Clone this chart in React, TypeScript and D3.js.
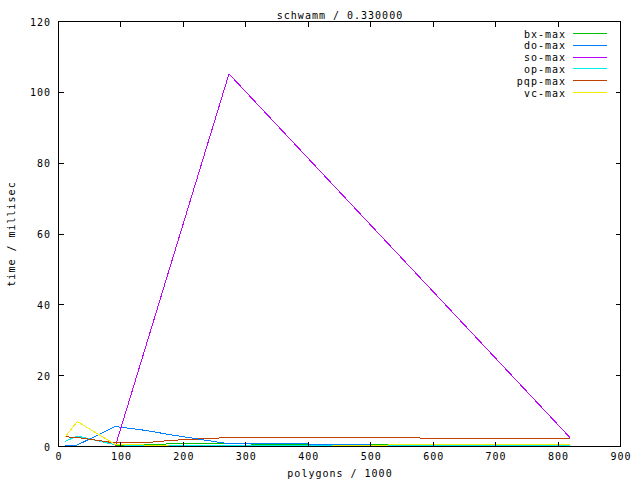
import React from 'react';
import * as d3 from 'd3';

const title = 'schwamm / 0.330000';
const xLabel = 'polygons / 1000';
const yLabel = 'time / millisec';
const xTicks = [0, 100, 200, 300, 400, 500, 600, 700, 800, 900];
const yTicks = [0, 20, 40, 60, 80, 100, 120];

const polygons = [10, 30, 91, 137, 182, 273, 410, 546, 819];
const bxMax = [0.14, 0.14, 0.14, 0.48, 0.76, 0.76, 0.54, 0.48, 0.34];
const doMax = [0.15, 0.42, 5.65, 4.6, 3.25, 0.76, 0.7, 0.28, 0.2];
const soPolygons = [10, 30, 91, 273, 819];
const soMax = [0.14, 0.14, 0.1, 105.2, 2.54];
const opMax = [1.41, 2.96, 0.48, 0.28, 0.28, 0.28, 0.24, 0.2, 0.2];
const pqpMax = [2.74, 2.54, 0.99, 1.04, 1.75, 2.54, 2.48, 2.43, 2.17];
const vcMax = [2.54, 7.06, 0.56, 0.42, 0.1, 0.05, 0.05, 0.48, 0.45];

const seriesNames = ['bx-max', 'do-max', 'so-max', 'op-max', 'pqp-max', 'vc-max'];
const seriesColors = ['#00c000', '#0080ff', '#c000ff', '#00eeee', '#c04000', '#eeee00'];
const seriesX = [polygons, polygons, soPolygons, polygons, polygons, polygons];
const seriesY = [bxMax, doMax, soMax, opMax, pqpMax, vcMax];

const W = 640;
const H = 480;
const FONT = '"DejaVu Sans Mono", "Liberation Mono", monospace';

export default function App() {
  const x = d3.scaleLinear().domain([0, 900]).range([58.5, 620.5]);
  const y = d3.scaleLinear().domain([0, 120]).range([446.5, 21.5]);
  const [x0, x1] = x.range();
  const [y0, y1] = y.range();
  const tick = 5;

  const line = d3
    .line<[number, number]>()
    .x((d) => x(d[0]))
    .y((d) => y(d[1]));

  const textStyle: React.CSSProperties = {
    fontFamily: FONT,
    fontSize: '10px',
    letterSpacing: '1px',
    fill: '#000',
  };

  return (
    <svg
      width={W}
      height={H}
      viewBox={`0 0 ${W} ${H}`}
      style={{ position: 'fixed', left: 0, top: 0, background: '#fff' }}
    >
      <rect x={0} y={0} width={W} height={H} fill="#fff" />
      {/* series */}
      {seriesNames.map((name, i) => {
        const pts: [number, number][] = seriesX[i].map((v, j) => [v, seriesY[i][j]]);
        return (
          <path
            key={name}
            d={line(pts) || ''}
            fill="none"
            stroke={seriesColors[i]}
            strokeWidth={1}
            shapeRendering="crispEdges"
          />
        );
      })}
      {/* ticks */}
      <g stroke="#000" strokeWidth={1} shapeRendering="crispEdges">
        {xTicks.map((t) => (
          <g key={'xt' + t}>
            <line x1={Math.round(x(t) - 0.5) + 0.5} x2={Math.round(x(t) - 0.5) + 0.5} y1={y0} y2={y0 - tick} />
            <line x1={Math.round(x(t) - 0.5) + 0.5} x2={Math.round(x(t) - 0.5) + 0.5} y1={y1} y2={y1 + tick} />
          </g>
        ))}
        {yTicks.map((t) => (
          <g key={'yt' + t}>
            <line x1={x0} x2={x0 + tick} y1={Math.round(y(t) - 0.5) + 0.5} y2={Math.round(y(t) - 0.5) + 0.5} />
            <line x1={x1} x2={x1 - tick} y1={Math.round(y(t) - 0.5) + 0.5} y2={Math.round(y(t) - 0.5) + 0.5} />
          </g>
        ))}
        <rect x={x0} y={y1} width={x1 - x0} height={y0 - y1} fill="none" />
      </g>
      {/* tick labels */}
      {xTicks.map((t) => (
        <text key={'xl' + t} x={x(t) + 0.5} y={460} textAnchor="middle" style={textStyle}>
          {t}
        </text>
      ))}
      {yTicks.map((t) => (
        <text key={'yl' + t} x={51} y={y(t) + 4} textAnchor="end" style={textStyle}>
          {t}
        </text>
      ))}
      {/* titles */}
      <text x={(x0 + x1) / 2 + 0.5} y={18.5} textAnchor="middle" style={textStyle}>
        {title}
      </text>
      <text x={(x0 + x1) / 2 + 0.5} y={477} textAnchor="middle" style={textStyle}>
        {xLabel}
      </text>
      <text
        transform={`translate(15, ${(y0 + y1) / 2}) rotate(-90)`}
        textAnchor="middle"
        style={textStyle}
      >
        {yLabel}
      </text>
      {/* legend */}
      {seriesNames.map((name, i) => {
        const ly = 33.5 + i * 11.8;
        const ry = Math.round(ly - 0.5) + 0.5;
        return (
          <g key={'lg' + name}>
            <text x={566} y={ly + 4} textAnchor="end" style={textStyle}>
              {name}
            </text>
            <line
              x1={573}
              x2={607}
              y1={ry}
              y2={ry}
              stroke={seriesColors[i]}
              strokeWidth={1}
              shapeRendering="crispEdges"
            />
          </g>
        );
      })}
    </svg>
  );
}
